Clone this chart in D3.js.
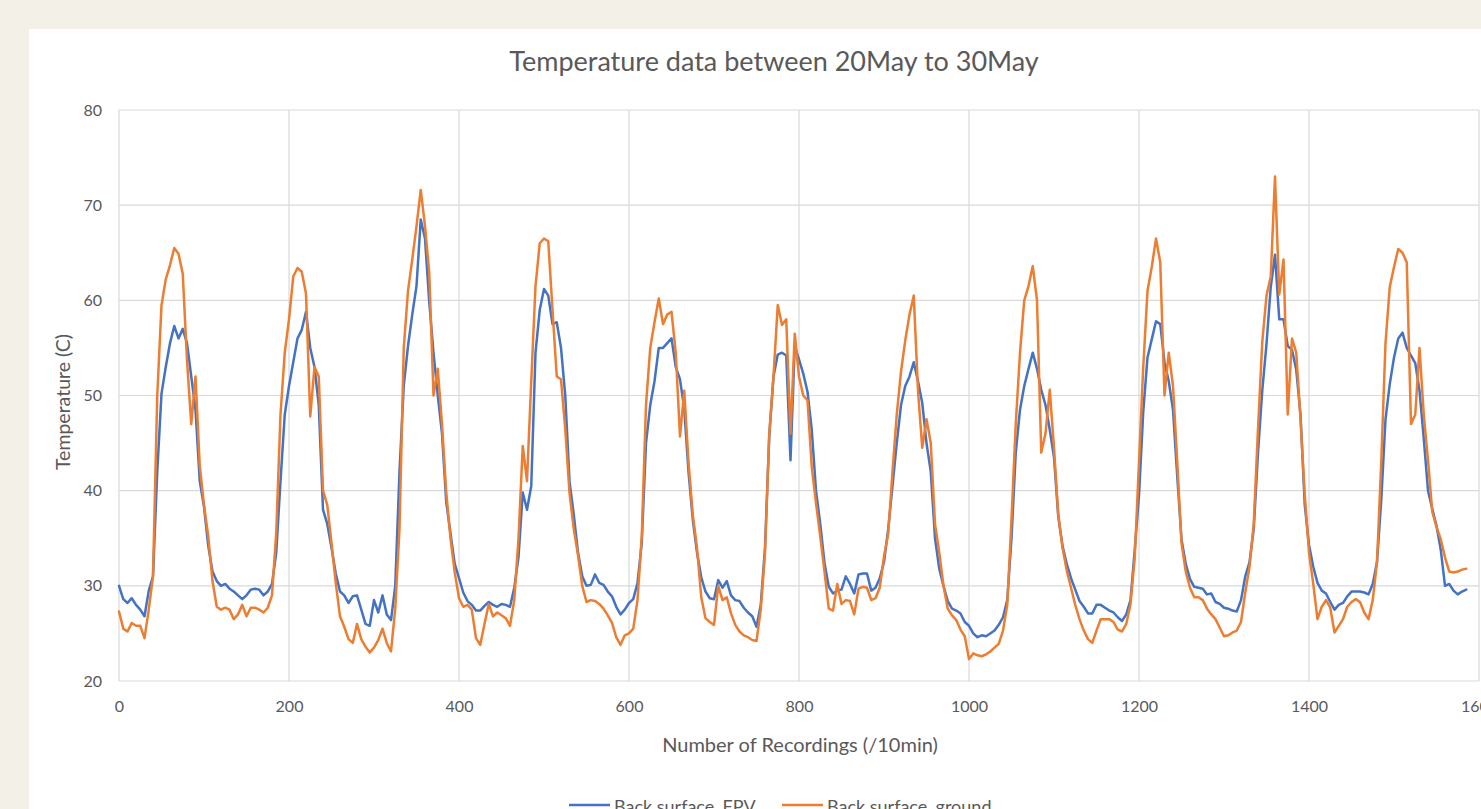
<!DOCTYPE html>
<html><head><meta charset="utf-8">
<script src="https://cdn.jsdelivr.net/npm/d3@7"></script>
<style>html,body{margin:0;padding:0;background:#f3f0e8;overflow:hidden}</style>
</head><body><svg id="c" width="1481" height="809"></svg>
<script>
const chartTitle = "Temperature data between 20May to 30May";
const xTitle = "Number of Recordings (/10min)";
const yTitle = "Temperature (C)";
const seriesNames = ["Back surface_FPV", "Back surface_ground"];
const recordingStep = 5; // one sample every 5 recordings
const xTicks = [0, 200, 400, 600, 800, 1000, 1200, 1400, 1600];
const yTicks = [20, 30, 40, 50, 60, 70, 80];

const fpv = [
30.0,28.6,28.2,28.7,28.0,27.5,26.8,29.5,31.0,42.0,
50.2,53.0,55.5,57.3,56.0,57.0,55.5,52.0,48.5,41.0,
38.3,34.2,31.5,30.5,30.0,30.2,29.7,29.4,29.0,28.6,
29.0,29.6,29.7,29.6,29.0,29.4,30.2,33.5,41.0,48.0,
51.0,53.5,56.0,56.9,58.8,55.0,53.0,49.0,38.0,36.5,
34.0,31.3,29.4,29.0,28.2,28.9,29.0,27.5,26.0,25.8,
28.5,27.2,29.0,27.0,26.4,30.0,42.0,51.0,55.2,58.5,
61.5,68.5,66.5,59.8,54.5,50.0,46.0,38.8,35.5,32.3,
30.8,29.3,28.4,28.0,27.4,27.4,27.9,28.3,28.0,27.8,
28.1,28.0,27.8,29.8,33.0,39.8,38.0,40.5,54.5,59.0,
61.2,60.5,57.5,57.7,55.0,50.0,41.0,37.5,33.5,31.0,
30.0,30.1,31.2,30.3,30.1,29.4,28.9,27.8,27.0,27.5,
28.2,28.6,30.3,34.5,45.0,49.0,51.5,55.0,55.0,55.5,
56.0,53.0,51.7,48.6,42.0,37.0,33.5,30.9,29.4,28.7,
28.6,30.6,29.8,30.5,29.0,28.5,28.4,27.7,27.2,26.8,
25.7,28.0,34.0,45.7,52.0,54.3,54.5,54.2,43.2,55.2,
53.8,52.3,50.4,46.4,40.0,36.5,32.4,29.9,29.2,29.5,
29.6,31.0,30.2,29.2,31.2,31.3,31.3,29.5,29.8,30.8,
32.5,36.0,40.5,45.0,49.0,51.0,52.0,53.5,51.5,49.2,
45.0,42.0,35.0,31.8,30.0,28.4,27.6,27.4,27.1,26.2,
25.8,25.0,24.6,24.8,24.7,25.0,25.3,25.9,26.7,28.5,
35.0,44.0,48.5,51.0,52.8,54.5,52.8,50.6,49.0,46.4,
43.5,37.3,34.2,32.3,30.8,29.6,28.4,27.8,27.1,27.1,
28.0,28.0,27.7,27.4,27.2,26.7,26.3,27.0,28.5,33.8,
39.5,48.3,54.0,55.9,57.8,57.5,53.5,51.5,48.5,41.5,
34.9,32.3,30.7,29.9,29.8,29.7,29.1,29.2,28.3,28.1,
27.7,27.6,27.4,27.3,28.5,31.0,32.5,36.0,44.0,50.5,
55.4,61.4,64.8,58.0,58.0,55.2,54.8,52.7,48.0,38.5,
34.3,32.0,30.3,29.5,29.2,28.3,27.5,28.0,28.2,28.9,
29.4,29.4,29.4,29.3,29.1,30.2,32.5,39.0,47.5,51.2,
54.0,56.0,56.6,55.0,54.2,53.4,50.5,45.5,40.0,38.1,
36.3,33.8,30.0,30.2,29.5,29.1,29.4,29.6
];

const ground = [
27.3,25.5,25.2,26.1,25.8,25.8,24.5,27.5,31.0,50.0,
59.5,62.2,63.7,65.5,64.9,62.8,53.7,47.0,52.0,42.6,
38.5,35.2,30.5,27.8,27.5,27.7,27.5,26.5,27.0,28.0,
26.8,27.7,27.7,27.5,27.2,27.7,29.0,35.6,48.0,54.5,
58.0,62.5,63.4,63.0,60.7,47.8,53.0,52.0,40.0,38.5,
34.5,30.3,26.8,25.7,24.4,24.0,26.0,24.4,23.6,23.0,
23.5,24.3,25.5,24.0,23.1,27.6,36.0,55.0,61.0,64.3,
67.8,71.6,67.8,62.9,50.0,52.8,47.0,39.8,35.0,31.4,
28.7,27.8,28.0,27.5,24.5,23.8,26.0,28.1,26.8,27.2,
26.9,26.6,25.8,28.5,35.0,44.7,41.0,51.5,61.5,66.0,
66.5,66.2,59.0,52.0,51.7,46.5,39.8,36.0,33.2,30.0,
28.3,28.5,28.4,28.1,27.6,26.9,26.1,24.6,23.8,24.8,
25.0,25.5,28.5,35.2,49.0,55.0,57.7,60.2,57.5,58.5,
58.8,54.5,45.7,50.5,43.0,37.5,34.0,28.8,26.6,26.2,
25.9,30.0,28.5,28.8,27.1,25.9,25.2,24.8,24.6,24.3,
24.2,27.5,33.4,46.0,52.0,59.5,57.4,58.0,46.0,56.5,
52.0,50.0,49.5,42.5,38.7,35.2,31.5,27.6,27.4,30.2,
28.1,28.5,28.4,27.0,29.7,29.9,29.8,28.5,28.7,29.8,
33.1,35.5,42.0,48.0,52.5,55.8,58.5,60.5,50.5,44.5,
47.5,45.0,36.5,33.5,30.0,27.6,26.9,26.4,25.4,24.7,
22.3,22.9,22.7,22.6,22.8,23.1,23.5,23.9,25.3,28.0,
37.0,47.0,54.5,60.0,61.5,63.6,60.0,44.0,46.0,50.6,
44.5,37.5,34.0,31.6,29.8,28.0,26.5,25.3,24.4,24.0,
25.3,26.5,26.5,26.5,26.2,25.4,25.2,26.0,28.1,33.0,
43.0,53.0,61.0,63.5,66.5,64.0,50.0,54.5,51.0,43.0,
34.5,31.5,29.8,28.8,28.8,28.5,27.6,27.0,26.5,25.6,
24.7,24.8,25.1,25.3,26.2,29.3,32.0,36.5,46.5,55.6,
60.5,62.5,73.0,60.6,64.3,48.0,56.0,54.5,47.5,39.6,
33.5,30.2,26.5,27.8,28.5,27.7,25.1,25.8,26.5,27.8,
28.3,28.6,28.3,27.2,26.5,28.5,32.5,43.0,55.5,61.4,
63.5,65.4,65.0,64.0,47.0,48.0,55.0,48.0,43.2,37.8,
36.2,34.9,33.0,31.5,31.4,31.5,31.7,31.8
];

const colors = ["#4472C4", "#ED7D31"];
const textColor = "#595959";
const font = "Lato, 'Open Sans', sans-serif";

const svg = d3.select("#c");
svg.append("rect").attr("x", 0).attr("y", 0).attr("width", 1481).attr("height", 809).attr("fill", "#f3f0e8");
svg.append("rect").attr("x", 29).attr("y", 29).attr("width", 1460).attr("height", 790).attr("fill", "#ffffff");

const x = d3.scaleLinear().domain([0, 1600]).range([119, 1479]);
const y = d3.scaleLinear().domain([20, 80]).range([681, 110]);

// gridlines
const grid = svg.append("g").attr("stroke", "#d9d9d9").attr("stroke-width", 1.2);
grid.selectAll(".h").data(yTicks).join("line")
  .attr("x1", x(0)).attr("x2", x(1600)).attr("y1", d => y(d)).attr("y2", d => y(d));
grid.selectAll(".v").data(xTicks).join("line")
  .attr("x1", d => x(d)).attr("x2", d => x(d)).attr("y1", y(20)).attr("y2", y(80));

// axes labels via d3 axes
const yAxis = svg.append("g").attr("transform", `translate(${x(0)},0)`)
  .call(d3.axisLeft(y).tickValues(yTicks).tickFormat(d3.format("d")).tickSize(0).tickPadding(17));
const xAxis = svg.append("g").attr("transform", `translate(0,${y(20)})`)
  .call(d3.axisBottom(x).tickValues(xTicks).tickFormat(d3.format("d")).tickSize(0).tickPadding(20));
[xAxis, yAxis].forEach(a => {
  a.select(".domain").remove();
  a.selectAll("text").attr("fill", textColor).style("font-family", font).style("font-size", "16px");
});

// series
const line = d3.line().x((d, i) => x(i * recordingStep)).y(d => y(d));
[fpv, ground].forEach((s, k) => {
  svg.append("path").datum(s).attr("d", line).attr("fill", "none")
    .attr("stroke", colors[k]).attr("stroke-width", 2.5)
    .attr("stroke-linejoin", "round").attr("stroke-linecap", "round");
});

// titles
svg.append("text").attr("x", 774).attr("y", 71).attr("text-anchor", "middle")
  .attr("fill", textColor).style("font-family", font).style("font-size", "27px").text(chartTitle);
svg.append("text").attr("x", 800).attr("y", 752).attr("text-anchor", "middle")
  .attr("fill", textColor).style("font-family", font).style("font-size", "20px").text(xTitle);
svg.append("text").attr("transform", "translate(70,402) rotate(-90)").attr("text-anchor", "middle")
  .attr("fill", textColor).style("font-family", font).style("font-size", "19.5px").text(yTitle);

// legend
const legendX = [569, 782];
seriesNames.forEach((n, k) => {
  svg.append("line").attr("x1", legendX[k]).attr("x2", legendX[k] + 41).attr("y1", 805).attr("y2", 805)
    .attr("stroke", colors[k]).attr("stroke-width", 2.5);
  svg.append("text").attr("x", legendX[k] + 45).attr("y", 813).attr("fill", textColor)
    .style("font-family", font).style("font-size", "18px").text(n);
});
</script></body></html>
